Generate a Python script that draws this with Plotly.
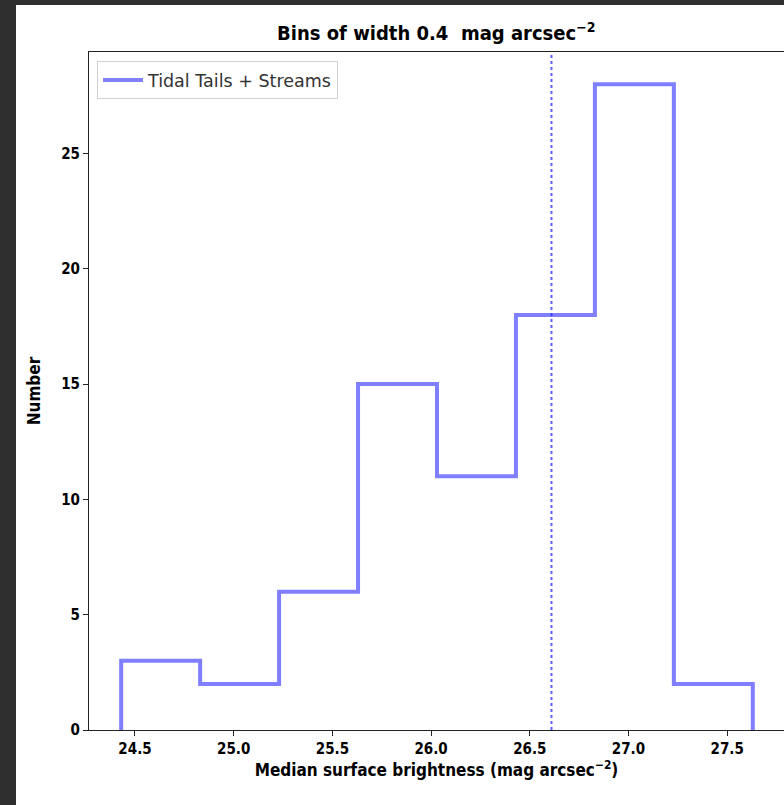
import plotly.graph_objects as go

# Data
bin_edges = [24.43, 24.83, 25.23, 25.63, 26.03, 26.43, 26.83, 27.23, 27.63]
counts = [3, 2, 6, 15, 11, 18, 28, 2]
median_value = 26.61
series_name = "Tidal Tails + Streams"
x_ticks = [24.5, 25.0, 25.5, 26.0, 26.5, 27.0, 27.5]
y_ticks = [0, 5, 10, 15, 20, 25]

step_x = [bin_edges[0]] + bin_edges
step_y = [0] + counts + [0]

bold_font = "DejaVu Sans Condensed, Liberation Sans Narrow, DejaVu Sans, sans-serif"

fig = go.Figure()
fig.add_trace(go.Scatter(
    x=step_x, y=step_y, mode="lines", line_shape="hv",
    line=dict(color="rgba(0,0,255,0.5)", width=4),
    name=series_name, showlegend=True,
))
fig.add_trace(go.Scatter(
    x=[median_value, median_value], y=[0, 29.4], mode="lines",
    line=dict(color="rgba(40,40,255,0.75)", width=2, dash="dot"),
    showlegend=False, hoverinfo="skip",
))

fig.update_layout(
    width=784, height=805,
    margin=dict(l=89, r=0, t=52, b=75),
    paper_bgcolor="#2f2f2f",
    plot_bgcolor="rgba(0,0,0,0)",
    title=dict(
        text="Bins of width 0.4  mag arcsec<sup>−2</sup>",
        x=0.5565, xanchor="center", y=1 - 33 / 805, yanchor="middle",
        font=dict(family=bold_font, size=20, color="black", weight="bold"),
    ),
    shapes=[dict(
        type="rect", xref="paper", yref="paper", layer="below",
        x0=(16 - 89) / 695, x1=1.05, y0=-75 / 678 - 0.02, y1=1 + 47 / 678,
        fillcolor="white", line=dict(width=0),
    )],
    legend=dict(
        x=8 / 695, y=1 - 9 / 678, xanchor="left", yanchor="top",
        bgcolor="rgba(255,255,255,0.8)", bordercolor="#d0d0d0", borderwidth=1,
        font=dict(family="DejaVu Sans, sans-serif", size=17.5, color="#333333"),
        itemwidth=40,
    ),
    xaxis=dict(
        range=[24.267, 27.788], tickvals=x_ticks,
        ticktext=[f"{v:.1f}" for v in x_ticks],
        showgrid=False, zeroline=False,
        showline=True, linecolor="#222222", linewidth=1, mirror=True,
        ticks="outside", ticklen=5, tickcolor="#222222",
        tickfont=dict(family=bold_font, size=15, color="black", weight="bold"),
        title=dict(text="Median surface brightness (mag arcsec<sup>−2</sup>)",
                   font=dict(family=bold_font, size=17, color="black", weight="bold"),
                   standoff=6),
    ),
    yaxis=dict(
        range=[0, 29.4], tickvals=y_ticks,
        showgrid=False, zeroline=False,
        showline=True, linecolor="#222222", linewidth=1,
        ticks="outside", ticklen=5, tickcolor="#222222",
        tickfont=dict(family=bold_font, size=15, color="black", weight="bold"),
        title=dict(text="Number",
                   font=dict(family=bold_font, size=17, color="black", weight="bold"),
                   standoff=16),
    ),
)

fig.write_html(
    "out.html",
    config={"displayModeBar": False},
    post_script="document.body.style.margin='0';document.body.style.background='#2f2f2f';",
)
